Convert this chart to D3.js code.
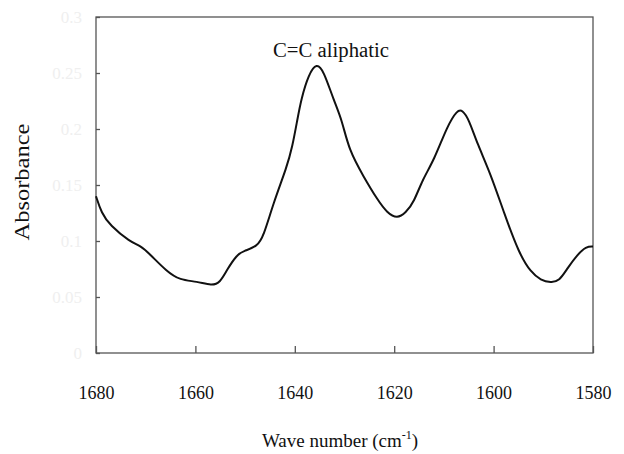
<!DOCTYPE html>
<html>
<head>
<meta charset="utf-8">
<script src="https://cdn.jsdelivr.net/npm/d3@7"></script>
<style>
  html, body { margin: 0; padding: 0; background: #fff; }
  svg { display: block; }
  svg text { font-family: "Liberation Serif", "Times New Roman", "DejaVu Serif", serif !important; }
</style>
</head>
<body>
<svg id="chart" width="624" height="454"></svg>
<script>
// Data
const wavenumber = [1680, 1678.9, 1677.2, 1673.1, 1671.1, 1669.1, 1665.8, 1663.1, 1659.7, 1656.7, 1655.0,
  1653.7, 1651.6, 1650.3, 1647.6, 1646.3, 1644.3, 1641.6, 1640.5, 1639.5, 1638.7, 1637.2, 1635.6,
  1634.2, 1632.2, 1630.5, 1629.1, 1626.1, 1623.4, 1621.4, 1619.4, 1617.7, 1616.0, 1614.3, 1612.0,
  1609.3, 1607.3, 1606.3, 1605.0, 1603.3, 1600.6, 1597.9, 1594.9, 1592.5, 1590.5, 1588.5, 1586.8,
  1585.1, 1583.1, 1581.4, 1580];
const absorbance = [0.140, 0.125, 0.114, 0.099, 0.096, 0.088, 0.073, 0.065, 0.064, 0.060, 0.063,
  0.074, 0.088, 0.091, 0.095, 0.104, 0.134, 0.166, 0.184, 0.208, 0.227, 0.249, 0.259,
  0.252, 0.226, 0.208, 0.181, 0.157, 0.137, 0.125, 0.120, 0.125, 0.135, 0.155, 0.172,
  0.203, 0.217, 0.217, 0.209, 0.187, 0.160, 0.125, 0.089, 0.072, 0.065, 0.063, 0.064,
  0.076, 0.088, 0.095, 0.095];
const xTicks = [1680, 1660, 1640, 1620, 1600, 1580];
const yTicks = [0, 0.05, 0.1, 0.15, 0.2, 0.25, 0.3];
const yTickLabels = ["0", "0.05", "0.1", "0.15", "0.2", "0.25", "0.3"];
const annotation = "C=C aliphatic";
const xTitle = "Wave number (cm";
const yTitle = "Absorbance";

const FONT = '"Liberation Serif", "Times New Roman", serif';
const svg = d3.select("#chart");
const L = 96, R = 593, T = 17, B = 353;

const x = d3.scaleLinear().domain([1680, 1580]).range([L, R]);
const y = d3.scaleLinear().domain([0, 0.3]).range([B, T]);

// Frame
svg.append("rect")
  .attr("x", L).attr("y", T).attr("width", R - L).attr("height", B - T)
  .attr("fill", "none").attr("stroke", "#555").attr("stroke-width", 1.3);

// X axis: inward ticks, labels below
const xAxis = d3.axisBottom(x).tickValues(xTicks).tickSize(-7).tickPadding(0).tickFormat(d3.format("d"));
const gx = svg.append("g").attr("transform", `translate(0,${B})`).call(xAxis)
  .attr("font-family", FONT).attr("font-size", 18);
gx.select(".domain").remove();
gx.selectAll(".tick line").attr("stroke", "#555").attr("stroke-width", 1.3);
gx.selectAll(".tick text")
  .attr("y", 46).attr("dy", 0)
  .attr("fill", "#111");

// Y axis: inward ticks, very light labels
const yAxis = d3.axisLeft(y).tickValues(yTicks).tickSize(-4).tickPadding(0)
  .tickFormat((d, i) => yTickLabels[i]);
const gy = svg.append("g").attr("transform", `translate(${L},0)`).call(yAxis)
  .attr("font-family", FONT).attr("font-size", 17);
gy.select(".domain").remove();
gy.selectAll(".tick line").attr("stroke", "#555").attr("stroke-width", 1.3);
gy.selectAll(".tick text")
  .attr("x", -14).attr("dy", "0.35em")
  .attr("fill", "#efefef");

// Curve
const pts = wavenumber.map((w, i) => [w, absorbance[i]]);
const line = d3.line().x(d => x(d[0])).y(d => y(d[1])).curve(d3.curveBasis);
svg.append("path").datum(pts)
  .attr("d", line)
  .attr("fill", "none").attr("stroke", "#111").attr("stroke-width", 2);

// Annotation
svg.append("text")
  .attr("x", 331).attr("y", 57)
  .attr("text-anchor", "middle")
  .attr("fill", "#111")
  .attr("font-family", FONT)
  .attr("font-size", 20)
  .attr("textLength", 116).attr("lengthAdjust", "spacingAndGlyphs")
  .text(annotation);

// X title with superscript
const xt = svg.append("text")
  .attr("x", 340).attr("y", 447)
  .attr("text-anchor", "middle")
  .attr("fill", "#111")
  .attr("font-family", FONT)
  .attr("font-size", 19);
xt.append("tspan").text(xTitle);
xt.append("tspan").attr("dy", -8).attr("font-size", 12).text("-1");
xt.append("tspan").attr("dy", 8).text(")");

// Y title
svg.append("text")
  .attr("transform", "translate(29,182) rotate(-90)")
  .attr("text-anchor", "middle")
  .attr("fill", "#111")
  .attr("font-family", FONT)
  .attr("font-size", 20)
  .attr("textLength", 117).attr("lengthAdjust", "spacingAndGlyphs")
  .text(yTitle);
</script>
</body>
</html>
